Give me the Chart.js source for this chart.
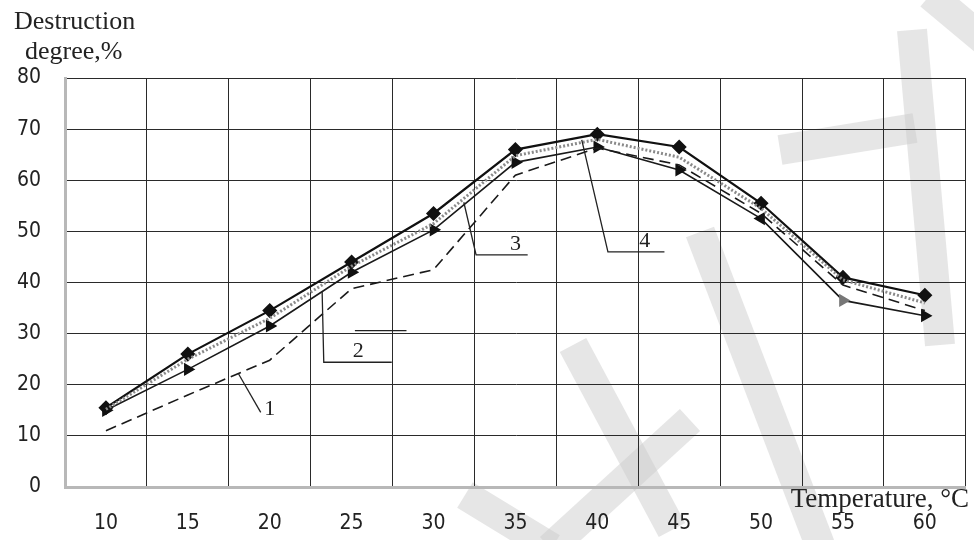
<!DOCTYPE html>
<html>
<head>
<meta charset="utf-8">
<script src="https://cdn.jsdelivr.net/npm/chart.js@4"></script>
<style>
  html, body { margin: 0; padding: 0; background: #fff; }
  #wrap { width: 974px; height: 540px; position: relative; }
</style>
</head>
<body>
<div id="wrap"><canvas id="c" width="974" height="540"></canvas></div>
<script>
// Temperature categories (°C)
const temperatures = ['10', '15', '20', '25', '30', '35', '40', '45', '50', '55', '60'];

// Destruction degree, % for the four curves
const curve1 = [11, 18, 24.8, 38.8, 42.5, 61, 66.3, 63, 53.5, 39.5, 34.5];
const curve2 = [15.2, 25, 33, 43.2, 51.5, 64.8, 68, 64.5, 54.5, 40.5, 36];
const curve3 = [15, 23, 31.5, 42, 50.3, 63.5, 66.5, 62, 52.5, 36.5, 33.5];
const curve4 = [15.5, 26, 34.5, 44, 53.5, 66, 69, 66.5, 55.5, 41, 37.5];

// Value axis range
const yMin = 0;
const yMax = 80;
const yStep = 10;

// Curve numbers with their leader lines, in (category index, value) units
const callouts = [
  { text: '1', path: [[1.62, 22.1], [1.89, 14.6]], at: [2.0, 14.0] },
  { text: '2', path: [[2.64, 38.2], [2.66, 24.4], [3.49, 24.4]], at: [3.08, 25.4], extra: [[3.04, 30.6], [3.67, 30.6]] },
  { text: '3', path: [[4.37, 55.7], [4.52, 45.4], [5.15, 45.4]], at: [5.0, 46.4] },
  { text: '4', path: [[5.81, 67.9], [6.13, 46.0], [6.82, 46.0]], at: [6.58, 47.0] }
];

const serif = '"Liberation Serif", "Times New Roman", serif';
const narrow = '"Liberation Sans Narrow", "DejaVu Sans Condensed", Arial, sans-serif';

// Faint diagonal watermark strokes behind the plot
const watermark = {
  id: 'watermark',
  beforeDraw(chart) {
    const ctx = chart.ctx;
    ctx.save();
    ctx.strokeStyle = 'rgba(205,205,205,0.5)';
    ctx.lineCap = 'butt';
    ctx.lineWidth = 30;
    const strokes = [
      [[930, -5], [990, 45]],
      [[912, 30], [940, 345]],
      [[780, 150], [915, 128]],
      [[573, 345], [672, 530]],
      [[700, 232], [820, 545]],
      [[550, 548], [690, 420]],
      [[465, 495], [552, 548]]
    ];
    strokes.forEach(s => {
      ctx.beginPath();
      ctx.moveTo(s[0][0], s[0][1]);
      ctx.lineTo(s[1][0], s[1][1]);
      ctx.stroke();
    });
    ctx.restore();
  }
};

// Axis titles and curve callouts
const decorations = {
  id: 'decorations',
  afterDatasetsDraw(chart) {
    const ctx = chart.ctx;
    const xs = chart.scales.x;
    const ys = chart.scales.y;
    const px = p => [xs.getPixelForValue(p[0]), ys.getPixelForValue(p[1])];
    ctx.save();
    ctx.strokeStyle = '#222';
    ctx.fillStyle = '#222';
    ctx.lineWidth = 1.3;
    callouts.forEach(c => {
      ctx.beginPath();
      c.path.forEach((p, i) => {
        const [x, y] = px(p);
        if (i === 0) ctx.moveTo(x, y); else ctx.lineTo(x, y);
      });
      ctx.stroke();
      if (c.extra) {
        ctx.beginPath();
        c.extra.forEach((p, i) => {
          const [x, y] = px(p);
          if (i === 0) ctx.moveTo(x, y); else ctx.lineTo(x, y);
        });
        ctx.stroke();
      }
      const [tx, ty] = px(c.at);
      ctx.font = '22px ' + serif;
      ctx.textAlign = 'center';
      ctx.textBaseline = 'alphabetic';
      ctx.fillText(c.text, tx, ty);
    });

    ctx.font = '26px ' + serif;
    ctx.textAlign = 'left';
    ctx.textBaseline = 'alphabetic';
    ctx.fillText('Destruction', 14, 29);
    ctx.fillText('degree,%', 25, 59);
    ctx.textAlign = 'right';
    ctx.font = '27px ' + serif;
    ctx.fillText('Temperature, °C', 969, 507);
    ctx.restore();
  }
};

new Chart(document.getElementById('c'), {
  type: 'line',
  data: {
    labels: temperatures,
    datasets: [
      {
        label: '1',
        data: curve1,
        borderColor: '#1a1a1a',
        borderWidth: 1.6,
        borderDash: [11, 6],
        pointRadius: 0,
        tension: 0
      },
      {
        label: '2',
        data: curve2,
        borderColor: '#8a8a8a',
        borderWidth: 3,
        borderDash: [2, 2],
        pointRadius: 0,
        tension: 0
      },
      {
        label: '3',
        data: curve3,
        borderColor: '#1a1a1a',
        borderWidth: 1.6,
        pointStyle: 'triangle',
        pointRadius: 6,
        pointRotation: [90, 90, 90, 90, 90, 90, 90, 90, 150, 210, 90],
        pointBackgroundColor: ['#111', '#111', '#111', '#111', '#111', '#111', '#111', '#111', '#111', '#777', '#111'],
        pointBorderColor: ['#111', '#111', '#111', '#111', '#111', '#111', '#111', '#111', '#111', '#777', '#111'],
        tension: 0
      },
      {
        label: '4',
        data: curve4,
        borderColor: '#111',
        borderWidth: 2.2,
        pointStyle: 'rectRot',
        pointRadius: 6,
        pointBackgroundColor: '#111',
        pointBorderColor: '#111',
        tension: 0
      }
    ]
  },
  options: {
    responsive: false,
    animation: false,
    devicePixelRatio: 1,
    layout: { padding: { top: 78, left: 0, right: 0, bottom: 0 } },
    plugins: {
      legend: { display: false },
      tooltip: { enabled: false },
      title: { display: false }
    },
    scales: {
      x: {
        type: 'category',
        offset: true,
        grid: { offset: true, color: '#2a2a2a', lineWidth: 1, drawTicks: false },
        border: { color: '#b8b8b8', width: 3 },
        ticks: { color: '#222', font: { family: narrow, size: 21 }, padding: 24, maxRotation: 0 },
        afterFit(scale) { scale.height = 53; }
      },
      y: {
        min: yMin,
        max: yMax,
        grid: { color: '#2a2a2a', lineWidth: 1, drawTicks: false },
        border: { color: '#b8b8b8', width: 3 },
        ticks: { stepSize: yStep, color: '#222', font: { family: narrow, size: 21 }, padding: 24 },
        afterFit(scale) { scale.width = 65; }
      }
    }
  },
  plugins: [watermark, decorations]
});
</script>
</body>
</html>
